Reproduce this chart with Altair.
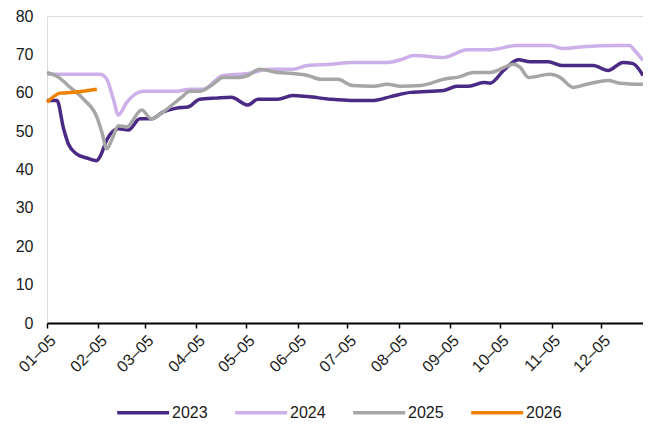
import altair as alt
import pandas as pd

years = ["2023", "2024", "2025", "2026"]
colors = ["#4B2A85", "#CDAFEA", "#A6A6A6", "#F08200"]

# day-of-year positions and values
doy_2023 = [5, 11, 15, 18, 23, 29, 35, 37, 41, 48, 54, 61, 68, 75, 83, 90, 97, 107, 116, 126, 132, 144,
            153, 162, 176, 188, 202, 212, 224, 244, 252, 259, 268, 272, 280, 289, 296, 307, 315, 334, 343,
            352, 358, 364]
val_2023 = [58, 58, 50.6, 46.5, 44, 43, 42.3, 43.4, 47.7, 50.6, 50.3, 53.2, 53.2, 55, 56, 56.3, 58.3, 58.6,
            58.8, 56.8, 58.3, 58.3, 59.3, 59.0, 58.3, 58, 58, 59, 60.1, 60.6, 61.7, 61.7, 62.7, 62.5, 65.8,
            68.6, 68.1, 68.1, 67.1, 67.1, 65.8, 67.9, 67.6, 64.5]

doy_2024 = [5, 37, 41, 45, 48, 53, 63, 83, 91, 99, 111, 126, 139, 153, 162, 176, 188, 210, 218, 226, 244,
            258, 272, 288, 308, 316, 328, 349, 356, 359, 364]
val_2024 = [64.8, 64.8, 63.5, 58.3, 54.2, 57.5, 60.4, 60.4, 60.9, 60.9, 64.5, 65, 66.1, 66.1, 67.1, 67.4,
            67.9, 67.9, 68.6, 69.7, 69.2, 71.2, 71.2, 72.3, 72.3, 71.5, 72, 72.3, 72.3, 71, 68.4]

doy_2025 = [5, 12, 19, 27, 35, 38, 41, 44, 48, 53, 62, 68, 75, 86, 91, 97, 105, 111, 121, 126, 133, 144,
            153, 162, 170, 180, 189, 202, 210, 218, 230, 246, 252, 262, 272, 286, 290, 295, 308, 314, 322,
            330, 343, 350, 364]
val_2025 = [65.3, 64, 61.4, 58.3, 53.7, 49.8, 45.4, 47.7, 51.4, 51.1, 55.5, 53.2, 55, 58.8, 60.4, 60.4,
            62.2, 64, 64, 64.5, 66.1, 65.3, 65, 64.5, 63.5, 63.5, 61.9, 61.7, 62.2, 61.7, 61.9, 63.7, 64,
            65.3, 65.3, 67.4, 66.6, 64, 64.8, 64, 61.4, 62.2, 63.2, 62.5, 62.2]

doy_2026 = [5, 13, 21, 35]
val_2026 = [57.5, 59.9, 60.1, 60.9]

tick_months = list(range(1, 13))
y_ticks = [0, 10, 20, 30, 40, 50, 60, 70, 80]

rows = []
for yr, doys, vals in zip(years, [doy_2023, doy_2024, doy_2025, doy_2026],
                          [val_2023, val_2024, val_2025, val_2026]):
    for i, (d, v) in enumerate(zip(doys, vals)):
        dt = (pd.Timestamp("2001-01-01") + pd.Timedelta(days=d - 1)).strftime("%Y-%m-%d")
        rows.append({"date": dt, "value": v, "year": yr, "idx": i})
df = pd.DataFrame(rows)

font = "Liberation Sans"

chart = alt.Chart(df).mark_line(interpolate="monotone").encode(
    x=alt.X("date:T",
            scale=alt.Scale(type="utc",
                            domain=[alt.DateTime(year=2001, month=1, date=5, utc=True),
                                    alt.DateTime(year=2001, month=12, date=30, utc=True)]),
            axis=alt.Axis(values=[alt.DateTime(year=2001, month=m, date=5, utc=True) for m in tick_months],
                          format="%m–%d", labelAngle=-45, title=None, grid=False,
                          domainColor="#000000", domainWidth=2, tickColor="#000000",
                          tickWidth=1.5, tickSize=5, labelFontSize=16, labelFont=font,
                          labelColor="#1a1a1a", labelPadding=4)),
    y=alt.Y("value:Q",
            scale=alt.Scale(domain=[0, 80], nice=False),
            axis=alt.Axis(values=y_ticks, title=None, grid=False, domain=False, ticks=False,
                          labelFontSize=16, labelFont=font, labelColor="#1a1a1a", labelPadding=14)),
    color=alt.Color("year:N", scale=alt.Scale(domain=years, range=colors),
                    legend=alt.Legend(title=None, orient="none", direction="horizontal",
                                      legendX=103, legendY=386, symbolType="M-5,0H1",
                                      symbolSize=300, symbolStrokeWidth=4.5,
                                      labelFontSize=16, labelFont=font, labelColor="#1a1a1a",
                                      labelOffset=1, columnPadding=20, padding=0)),
    strokeWidth=alt.StrokeWidth("year:N", scale=alt.Scale(domain=years, range=[3.5, 3.5, 4, 5]),
                                legend=None),
    order=alt.Order("idx:Q"),
).properties(
    width=596, height=307,
    autosize=alt.AutoSizeParams(type="none"),
    padding={"left": 39, "top": 8, "right": 0, "bottom": 97},
).configure_view(stroke=None).configure(background="#ffffff")

chart.save("out.html", embed_options={"renderer": "svg", "actions": False})
